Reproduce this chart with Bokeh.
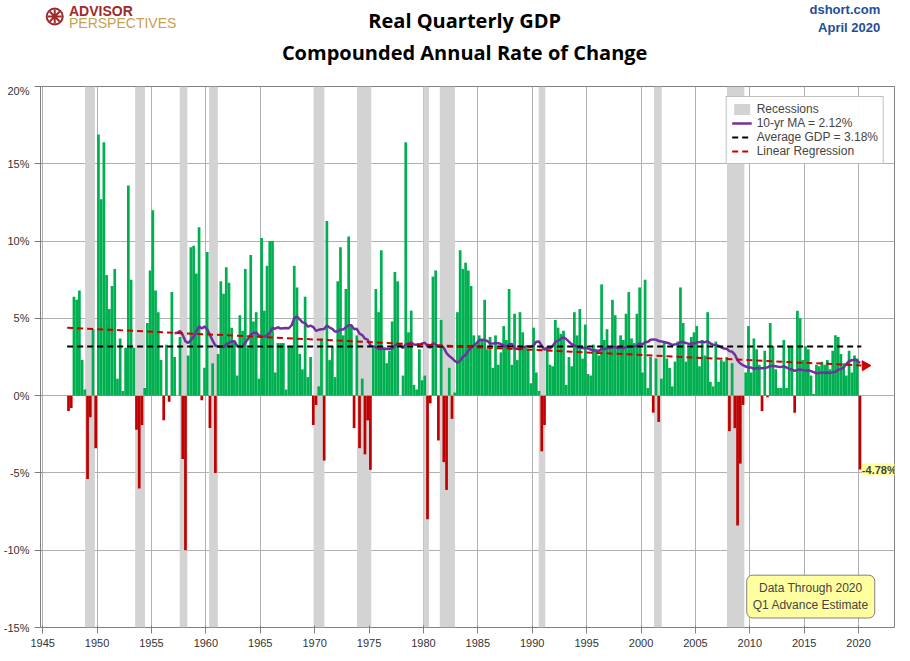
import numpy as np
from bokeh.plotting import figure
from bokeh.layouts import column
from bokeh.core.properties import value
from bokeh.models import Label, Legend, LegendItem, Range1d, FixedTicker, CustomJSTickFormatter
from bokeh.embed import file_html
from bokeh.resources import INLINE

gdp = [-1.0,-0.8,6.4,
6.2,6.8,2.3,0.4, -5.4,-1.4,4.3,-3.4, 16.9,12.7,16.4,7.8, 5.6,7.1,8.2,1.1, 3.7,0.3,3.1,13.6,
7.5,3.1,-2.2,-6.0, -1.9,0.5,4.7,8.1, 12.0,6.8,5.4,2.3, -1.6,3.3,-0.4,6.7, 2.5,0.0,3.8,-4.1,
-10.0,2.6,9.6,9.7, 7.9,10.9,-0.3,1.8, 9.3,-2.1,2.1,-5.0, 2.7,7.4,6.6,8.3, 7.3,4.4,3.5,1.3,
5.2,4.2,8.2,3.1, 9.1,4.8,5.4,1.1, 10.2,5.5,8.4,10.0, 10.0,1.5,3.4,3.4, 3.4,0.4,3.2,3.2,
8.4,7.0,2.7,1.7, 6.4,1.2,2.5,-1.9, -0.6,0.6,3.7,-4.2, 11.3,2.3,3.2,1.2, 7.4,9.6,3.9,6.9,
10.3,4.5,-2.1,3.9, -3.4,1.1,-3.8,-1.6, -4.8,3.1,6.9,5.4, 9.4,3.0,2.1,2.9, 4.8,8.0,7.4,0.0,
1.3,16.4,4.1,5.5, 0.7,0.4,3.0,1.0, 1.3,-8.0,-0.5,7.7, 8.1,-2.9,4.9,-4.3, -6.1,1.8,-1.5,0.2,
5.4,9.4,8.2,8.6, 8.1,7.1,3.9,3.3, 3.9,3.6,6.2,3.0, 3.8,1.8,3.9,2.0, 2.8,4.5,3.6,6.9,
2.0,5.3,2.3,5.4, 4.1,3.1,3.0,0.8, 4.4,1.5,0.3,-3.6, -1.9,3.1,2.0,1.9, 4.9,4.4,4.0,4.2,
0.7,2.5,1.9,5.4, 3.9,5.6,2.4,4.6, 1.4,1.3,3.3,3.0, 2.6,7.2,3.6,4.3, 3.1,6.2,5.2,3.1,
3.9,3.6,5.3,6.7, 3.7,3.4,5.3,7.0, 1.5,7.5,0.5,2.5, -1.1,2.4,-1.7,1.1, 3.5,2.4,1.8,0.6,
2.2,3.5,7.0,4.7, 2.2,3.1,3.8,4.1, 4.5,1.9,3.6,2.6, 5.4,0.9,0.6,3.5, 0.9,2.3,2.2,2.5,
-2.3,2.1,-2.1,-8.4, -4.4,-0.6,1.5,4.5, 1.5,3.7,3.0,2.0, -1.0,2.9,-0.1,4.7, 3.2,1.7,0.5,0.5,
3.6,0.5,3.2,3.2, -1.1,5.5,5.0,2.3, 3.2,3.0,1.3,0.1, 2.0,1.9,2.2,2.0, 2.3,1.7,2.9,3.9,
3.8,2.7,2.1,1.3, 2.9,1.5,2.6,2.4, -4.78]

rec_start = [1948.9,1953.5,1957.6,1960.3,1969.9,1973.9,1980.0,1981.5,1990.6,2001.2,2007.9]
rec_end   = [1949.8,1954.4,1958.3,1961.1,1970.9,1975.2,1980.5,1982.9,1991.2,2001.9,2009.5]
y_ticks = [-15,-10,-5,0,5,10,15,20]
x_ticks = list(range(1945, 2021, 5))

g = np.array(gdp)
t = 1947.25 + np.arange(len(g)) * 0.25 + 0.125
colors = ["#00b050" if v >= 0 else "#c00000" for v in g]
ma = np.convolve(g, np.ones(40) / 40, mode="valid")
ma_t = t[39:]
avg = g.mean()
k, b = np.polyfit(t, g, 1)

# header
h = figure(width=900, height=84, output_backend="svg", toolbar_location=None,
           x_range=Range1d(0, 900), y_range=Range1d(84, 0), min_border=0)
h.axis.visible = False
h.grid.visible = False
h.outline_line_color = None
h.border_fill_color = "white"
hx = [447, 447, 30, 30, 885, 885]
hy = [20, 52, 10, 22, 9, 27]
ht = ["Real Quarterly GDP", "Compounded Annual Rate of Change", "ADVISOR", "PERSPECTIVES", "dshort.com", "April 2020"]
hs = ["20px", "20px", "14px", "14px", "13px", "13px"]
hw = ["bold", "bold", "bold", "normal", "bold", "bold"]
hc = ["black", "black", "#9e2a2b", "#c8a050", "#1f4e99", "#1f4e99"]
ha = ["center", "center", "left", "left", "right", "right"]
for i in range(6):
    h.text(x=[hx[i]], y=[hy[i]], text=[ht[i]], text_font_size=value(hs[i]), text_font_style=hw[i],
           text_color=hc[i], text_align=ha[i], text_baseline="middle",
           text_font=value("Open Sans" if i < 2 else "Liberation Sans"))
h.scatter([15], [16], marker="circle", size=16, fill_color=None, line_color="#9e2a2b", line_width=2)
h.scatter([15], [16], marker="asterisk", size=14, line_color="#9e2a2b", line_width=2)

p = figure(width=900, height=568, output_backend="svg", toolbar_location=None,
           x_range=Range1d(1944.8, 2023.3), y_range=Range1d(-15, 20),
           min_border_left=35, min_border_right=6, min_border_top=2, min_border_bottom=25)
p.background_fill_color = "white"
p.border_fill_color = "white"
p.outline_line_color = "#808080"
p.xgrid.grid_line_color = "#b0b0b0"
p.ygrid.grid_line_color = "#b0b0b0"
p.xaxis.ticker = FixedTicker(ticks=x_ticks)
p.yaxis.ticker = FixedTicker(ticks=y_ticks)
p.yaxis.formatter = CustomJSTickFormatter(code="return tick + '%';")
for ax in (p.xaxis[0], p.yaxis[0]):
    ax.major_label_text_font_size = "11px"
    ax.major_label_text_color = "#333333"
    ax.axis_line_color = None
    ax.major_tick_line_color = "#808080"
    ax.minor_tick_line_color = None

r_rec = p.quad(left=rec_start, right=rec_end, bottom=-15, top=20, fill_color="#d3d3d3", line_color=None)
p.vbar(x=t, top=g, width=0.25, fill_color=colors, line_color=None)
r_ma = p.line(ma_t, ma, line_color="#7030a0", line_width=2.5)
r_avg = p.line([1947.25, 2020.25], [avg, avg], line_color="black", line_width=2, line_dash="6 4")
rx = np.array([1947.25, 2020.25])
r_reg = p.line(rx, k * rx + b, line_color="#cc0000", line_width=2, line_dash="6 4")
p.scatter([2020.6], [k * 2020.6 + b], marker="triangle", angle=-np.pi / 2 + 0.02, size=10, color="#cc0000")

leg = Legend(items=[
    LegendItem(label="Recessions", renderers=[r_rec]),
    LegendItem(label="10-yr MA = 2.12%", renderers=[r_ma]),
    LegendItem(label="Average GDP = 3.18%", renderers=[r_avg]),
    LegendItem(label="Linear Regression", renderers=[r_reg]),
], location="top_right", label_text_font_size="12px", spacing=0, padding=5,
    border_line_color="#808080", glyph_height=14, label_height=14)
p.add_layout(leg)

p.add_layout(Label(x=2020.3, y=g[-1], text="-4.78%", text_font_size="11px", text_baseline="middle",
                   background_fill_color="#ffff99", text_font_style="bold"))
p.add_layout(Label(x=2015.6, y=-13.0, text="Data Through 2020\nQ1 Advance Estimate", text_font_size="12px",
                   text_align="center", text_baseline="middle", background_fill_color="#ffffa0",
                   border_line_color="#808080", padding=6, border_radius=6))

open("out.html", "w").write(file_html(column(h, p, spacing=0), INLINE))
